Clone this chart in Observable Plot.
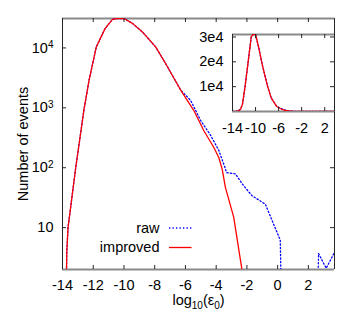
<!DOCTYPE html>
<html><head><meta charset="utf-8">
<script src="https://cdn.jsdelivr.net/npm/d3@7"></script>
<script src="https://cdn.jsdelivr.net/npm/@observablehq/plot@0.6"></script>
<style>
body{margin:0;background:#fff;}
#wrap{position:relative;width:360px;height:315px;overflow:hidden;}
#wrap svg{position:absolute;left:0;top:0;}
</style></head><body><div id="wrap"></div>
<script>
// ---- data ----
const improvedX = [-14, -13.74, -13.72, -13.64, -13.14, -12.6, -12.27, -11.8, -11.23, -10.75, -10.43, -10.0, -9.45, -8.8, -7.94, -7.29, -6.32, -5.45, -4.8, -4.16, -3.83, -3.61, -3.4, -2.86, -2.31, -2.0, 0, 2, 3.7];
const improvedN = [0, 1.9, 4, 10, 100, 940, 2900, 10400, 21000, 30000, 31000, 31000, 25700, 18500, 10400, 5500, 2000, 900, 415, 220, 148, 95, 47, 15, 1.9, 0, 0, 0, 0];
const rawX = [-14, -13.74, -13.72, -13.64, -13.14, -12.6, -12.27, -11.8, -11.23, -10.75, -10.43, -10.0, -9.45, -8.8, -7.94, -7.29, -6.32, -5.66, -5.02, -4.37, -3.83, -3.4, -3.33, -2.75, -2.21, -1.66, -0.8, 0.17, 0.21, 1.4, 2.64, 2.66, 3.16, 3.66];
const rawN = [0, 1.9, 4, 10, 100, 940, 2900, 10400, 21000, 30000, 31000, 31000, 25700, 18500, 10400, 5500, 2000, 1330, 620, 350, 195, 96, 83, 79, 50, 34, 24.6, 6.2, 1.9, 0, 1.9, 3.7, 2.1, 3.7];
const seriesNames = ["raw", "improved"];
const mainXTicks = [-14, -12, -10, -8, -6, -4, -2, 0, 2];
const mainYTicks = [10, 100, 1000, 10000];
const mainYTickLabels = ["10", "10^2", "10^3", "10^4"];
const insetXTicks = [-14, -10, -6, -2, 2];
const insetYTicks = [10000, 20000, 30000];
const insetYTickLabels = ["1e4", "2e4", "3e4"];
const xTitle = "log10(ε0)";
const yTitle = "Number of events";
const xDomain = [-14, 3.7];
const yDomainLog = [2, 31000];
const yDomainLin = [0, 31000];

// ---- tables ----
const improved = improvedX.map((x, i) => ({x, n: improvedN[i]}));
const raw = rawX.map((x, i) => ({x, n: rawN[i]}));

const FONT = "'Liberation Sans', Arial, Helvetica, sans-serif";
const FS = 14.5;
const W = 360, H = 315, TK = 4;
const dark = "#262626", gray = "#8a8a8a";
const RED = "#ff0000", BLUE = "#0000ff", DASH = "1.3,2.2";
const posLog = d => d.n > 0 ? d.n : NaN;

const M = {l: 62, r: 26, t: 18, b: 46};
const FW = W - M.l - M.r, FH = H - M.t - M.b;

function legendMark() {
  const g = d3.create("svg:g").attr("font-family", FONT).attr("font-size", FS);
  const items = [
    {name: seriesNames[0], stroke: BLUE, dash: DASH},
    {name: seriesNames[1], stroke: RED, dash: null}
  ];
  items.forEach((it, i) => {
    const y = 228 + i * 19.5;
    g.append("text").attr("x", 159.5).attr("y", y).attr("dy", "0.34em")
      .attr("text-anchor", "end").attr("fill", "#000").text(it.name);
    const l = g.append("line").attr("x1", 169).attr("x2", 191.5).attr("y1", y).attr("y2", y)
      .attr("stroke", it.stroke).attr("stroke-width", 1.3);
    if (it.dash) l.attr("stroke-dasharray", it.dash);
  });
  return g.node();
}

const main = Plot.plot({
  width: W, height: H,
  marginLeft: M.l, marginRight: M.r, marginTop: M.t, marginBottom: M.b,
  style: {fontFamily: FONT, fontSize: FS + "px", background: "white", color: "#000"},
  x: {domain: xDomain},
  y: {type: "log", domain: yDomainLog},
  marks: [
    Plot.ruleY([yDomainLog[0], yDomainLog[1]], {stroke: gray, strokeWidth: 2}),
    Plot.ruleX([xDomain[0], xDomain[1]], {stroke: dark, strokeWidth: 1}),
    Plot.line(raw, {x: "x", y: posLog, stroke: BLUE, strokeWidth: 1.3, strokeDasharray: DASH, clip: true}),
    Plot.line(improved, {x: "x", y: posLog, stroke: RED, strokeWidth: 1.3, clip: true}),
    Plot.ruleX(mainXTicks, {insetTop: FH - TK, stroke: dark}),
    Plot.ruleX(mainXTicks, {insetBottom: FH - TK, stroke: dark}),
    Plot.ruleY(mainYTicks, {insetRight: FW - TK, stroke: dark}),
    Plot.ruleY(mainYTicks, {insetLeft: FW - TK, stroke: dark}),
    Plot.axisX({ticks: mainXTicks, tickFormat: d => String(d), tickSize: 0, tickPadding: 10, label: null, fontSize: FS}),
    Plot.axisY({ticks: mainYTicks, tickFormat: d => mainYTickLabels[mainYTicks.indexOf(d)], tickSize: 0, tickPadding: 9, label: null, fontSize: FS}),
    Plot.text([xTitle], {text: d => d, frameAnchor: "bottom", textAnchor: "middle", lineAnchor: "middle", dy: 31, fontSize: FS}),
    Plot.text([yTitle], {text: d => d, frameAnchor: "left", textAnchor: "middle", lineAnchor: "middle", rotate: -90, dx: -39.5, fontSize: FS}),
    legendMark
  ]
});

const IM = {l: 232, r: 26, t: 34, b: 204};
const IFW = W - IM.l - IM.r, IFH = H - IM.t - IM.b;

const inset = Plot.plot({
  width: W, height: H,
  marginLeft: IM.l, marginRight: IM.r, marginTop: IM.t, marginBottom: IM.b,
  style: {fontFamily: FONT, fontSize: FS + "px", background: "transparent", color: "#000"},
  x: {domain: xDomain},
  y: {domain: yDomainLin},
  marks: [
    Plot.frame({fill: "white", stroke: "none"}),
    Plot.ruleY([yDomainLin[0], yDomainLin[1]], {stroke: gray, strokeWidth: 2}),
    Plot.ruleX([xDomain[0], xDomain[1]], {stroke: dark, strokeWidth: 1}),
    Plot.line(raw, {x: "x", y: "n", stroke: BLUE, strokeWidth: 1.3, strokeDasharray: DASH, clip: true}),
    Plot.line(improved, {x: "x", y: "n", stroke: RED, strokeWidth: 1.3, clip: true}),
    Plot.ruleX(insetXTicks, {insetTop: IFH - TK, stroke: dark}),
    Plot.ruleX(insetXTicks, {insetBottom: IFH - TK, stroke: dark}),
    Plot.ruleY(insetYTicks, {insetRight: IFW - TK, stroke: dark}),
    Plot.ruleY(insetYTicks, {insetLeft: IFW - TK, stroke: dark}),
    Plot.axisX({ticks: insetXTicks, tickFormat: d => String(d), tickSize: 0, tickPadding: 11, label: null, fontSize: FS}),
    Plot.axisY({ticks: insetYTicks, tickFormat: d => insetYTickLabels[insetYTicks.indexOf(d)], tickSize: 0, tickPadding: 9, label: null, fontSize: FS})
  ]
});

const wrap = document.getElementById("wrap");
wrap.appendChild(main);
wrap.appendChild(inset);

// superscripts / subscripts as real text
d3.select(main).selectAll("text").each(function() {
  const t = this.textContent;
  const sup = /^10\^(\d)$/.exec(t);
  if (sup) {
    const s = d3.select(this);
    s.text("10");
    s.append("tspan").attr("font-size", 10).attr("dy", "-0.45em").text(sup[1]);
  } else if (t === xTitle) {
    const s = d3.select(this);
    s.text("");
    s.append("tspan").text("log");
    s.append("tspan").attr("font-size", 10).attr("dy", 4).text("10");
    s.append("tspan").attr("dy", -4).text("(ε");
    s.append("tspan").attr("font-size", 10).attr("dy", 4).text("0");
    s.append("tspan").attr("dy", -4).text(")");
  }
});
</script></body></html>
